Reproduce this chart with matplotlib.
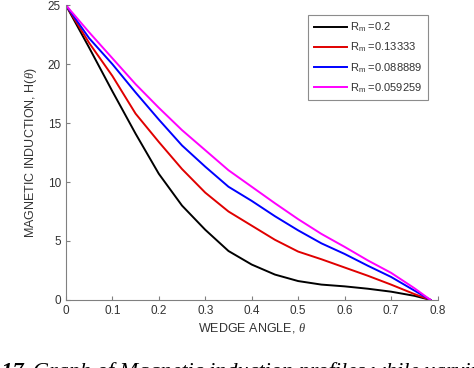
import matplotlib
matplotlib.use('Agg')
import matplotlib.pyplot as plt

# wedge angle values
theta = [0, 0.05, 0.1, 0.15, 0.2, 0.25, 0.3, 0.35, 0.4, 0.45, 0.5,
         0.55, 0.6, 0.65, 0.7, 0.75, 0.785]

# magnetic induction H(theta) for each Rm
h_02 = [25, 21.4, 17.7, 14.1, 10.7, 8.0, 5.95, 4.15, 3.0, 2.15, 1.6,
        1.3, 1.15, 0.95, 0.7, 0.35, 0]
h_013 = [25, 21.8, 19.0, 15.8, 13.4, 11.1, 9.1, 7.5, 6.3, 5.1, 4.1,
         3.45, 2.75, 2.05, 1.3, 0.5, 0]
h_0088 = [25, 22.2, 20.0, 17.6, 15.3, 13.1, 11.3, 9.6, 8.4, 7.1, 5.9,
          4.8, 3.9, 2.9, 1.95, 0.8, 0]
h_0059 = [25, 22.7, 20.5, 18.3, 16.3, 14.4, 12.7, 11.0, 9.6, 8.2, 6.85,
          5.6, 4.5, 3.35, 2.3, 1.0, 0]

series = [h_02, h_013, h_0088, h_0059]
labels = ['R$_{\\mathrm{m}}$ =0.2', 'R$_{\\mathrm{m}}$ =0.13333',
          'R$_{\\mathrm{m}}$ =0.088889', 'R$_{\\mathrm{m}}$ =0.059259']
colors = ['black', '#e00000', '#0000ff', '#ff00ff']

plt.rcParams['font.family'] = ['Liberation Sans', 'DejaVu Sans']
plt.rcParams['mathtext.fontset'] = 'custom'
plt.rcParams['mathtext.rm'] = 'Liberation Sans'
plt.rcParams['mathtext.it'] = 'Liberation Serif:italic'

fig = plt.figure(figsize=(4.74, 3.68), dpi=100)
ax = fig.add_axes([0.139, 0.185, 0.784, 0.801])

for h, lab, c in zip(series, labels, colors):
    ax.plot(theta, h, color=c, linewidth=1.4, label=lab)

ax.set_xlim(0, 0.8)
ax.set_ylim(0, 25)
ax.set_xticks([0, 0.1, 0.2, 0.3, 0.4, 0.5, 0.6, 0.7, 0.8])
ax.set_xticklabels(['0', '0.1', '0.2', '0.3', '0.4', '0.5', '0.6', '0.7', '0.8'])
ax.set_yticks([0, 5, 10, 15, 20, 25])

for side in ['top', 'right']:
    ax.spines[side].set_visible(False)
for side in ['left', 'bottom']:
    ax.spines[side].set_color('#808080')
    ax.spines[side].set_linewidth(0.8)
ax.tick_params(direction='in', length=3, color='#808080', labelcolor='#333333',
               labelsize=8.5)

ax.set_xlabel('WEDGE ANGLE, $\\mathit{\\theta}$', fontsize=9, color='#333333', labelpad=3)
ax.set_ylabel('MAGNETIC INDUCTION, H($\\mathit{\\theta}$)', fontsize=9, color='#333333',
              labelpad=6)

leg = ax.legend(loc='upper right', bbox_to_anchor=(0.99, 0.985), fontsize=8,
                fancybox=False, edgecolor='#707070', handlelength=3.0,
                handletextpad=0.3, borderpad=0.5, labelspacing=0.6)
leg.get_frame().set_linewidth(0.8)
for t in leg.get_texts():
    t.set_color('#333333')

# caption, cut off at the bottom of the image
fig.text(0.062, -0.024, 'Fig. 17.', fontsize=16, fontweight='bold', style='italic',
         family='Liberation Serif', va='baseline', ha='right')
fig.text(0.07, -0.024, 'Graph of Magnetic induction profiles while varying',
         fontsize=16, style='italic', family='Liberation Serif', va='baseline', ha='left')

fig.savefig('out.png', dpi=100)
